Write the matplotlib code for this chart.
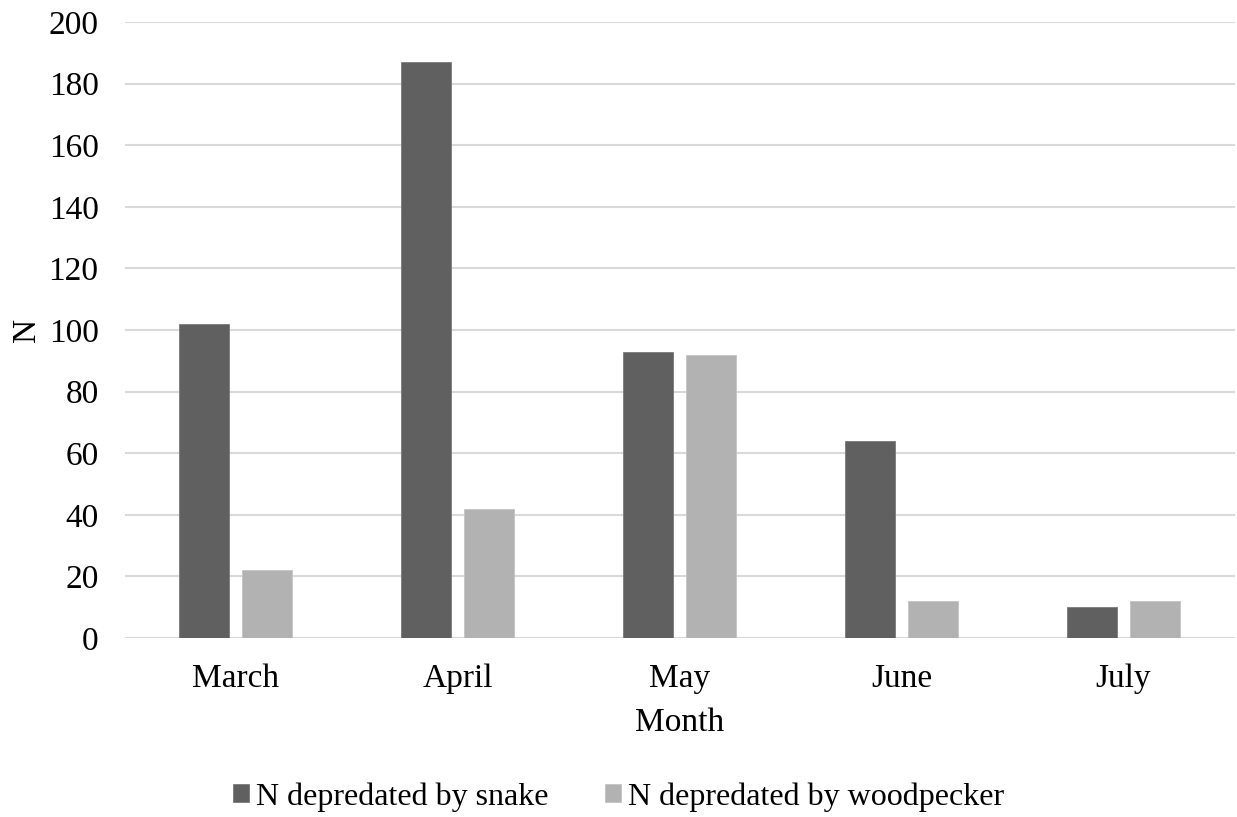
import matplotlib.pyplot as plt
import numpy as np

plt.rcParams['font.family'] = ['Liberation Serif', 'DejaVu Serif']

months = ['March', 'April', 'May', 'June', 'July']
snake = [102, 187, 93, 64, 10]
woodpecker = [22, 42, 92, 12, 12]

fig = plt.figure(figsize=(12.37, 8.17), dpi=100)
ax = fig.add_axes([0.101, 0.219, 0.897, 0.754])

x = np.arange(len(months))
w = 0.225
ax.bar(x - 0.142, snake, w, color='#606060', edgecolor='#7a7a7a', linewidth=0.6,
       label='N depredated by snake', zorder=3)
ax.bar(x + 0.142, woodpecker, w, color='#b2b2b2', edgecolor='#c4c4c4', linewidth=0.6,
       label='N depredated by woodpecker', zorder=3)

ax.set_xlim(-0.5, len(months) - 0.5)
ax.set_ylim(0, 200)
ax.set_yticks(range(0, 201, 20))
ax.set_xticks(x)
ax.set_xticklabels(months)
ax.grid(axis='y', color='#d9d9d9', linewidth=1.5, zorder=0)
for s in ax.spines.values():
    s.set_visible(False)
ax.axhline(0, color='#d9d9d9', linewidth=1.5, zorder=1)
ax.tick_params(axis='both', length=0, labelsize=24)
ax.tick_params(axis='y', pad=19)
ax.tick_params(axis='x', pad=18)

ax.set_xlabel('Month', fontsize=24, labelpad=10)
ax.set_ylabel('N', fontsize=24, labelpad=5)

# legend is centred on the whole figure, not on the axes
fig.legend(loc='center', bbox_to_anchor=(0.5, 0.0245), ncol=2, frameon=False,
           fontsize=23, handlelength=0.5, handleheight=0.5, handletextpad=0.22,
           columnspacing=1.75)

fig.savefig('out.png', dpi=100)
